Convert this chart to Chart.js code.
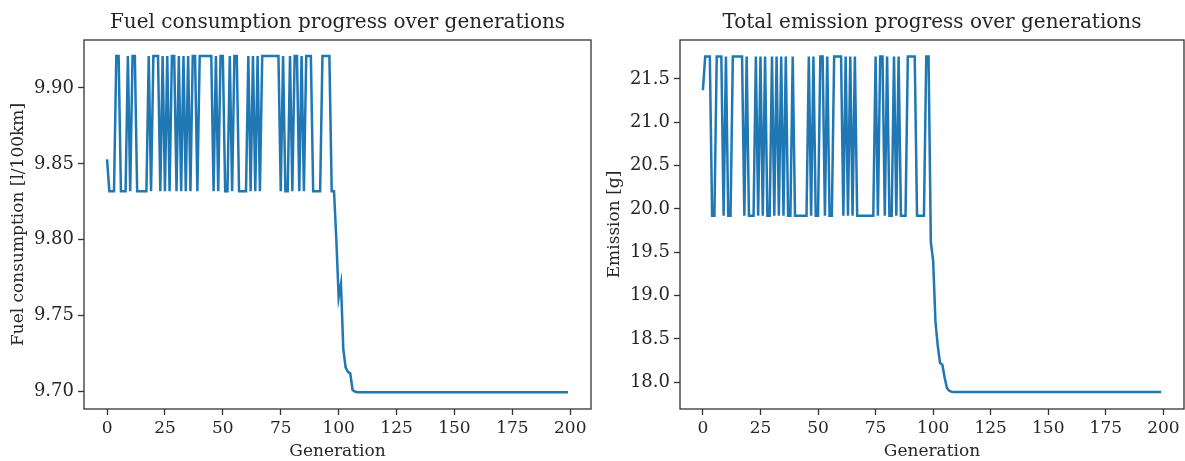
<!DOCTYPE html>
<html>
<head>
<meta charset="utf-8">
<script src="https://cdn.jsdelivr.net/npm/chart.js@4.4.1/dist/chart.umd.min.js"></script>
<style>
  html, body { margin: 0; padding: 0; background: #fff; }
  #wrap { position: relative; width: 1185px; height: 461px; }
  #fuelChart { position: absolute; left: 0; top: 0; }
  #emissionChart { position: absolute; left: 600px; top: 0; }
</style>
</head>
<body>
<div id="wrap">
  <canvas id="fuelChart" width="600" height="461"></canvas>
  <canvas id="emissionChart" width="585" height="461"></canvas>
</div>
<script>
var generations = [
  0, 1, 2, 3, 4, 5, 6, 7, 8, 9,
  10, 11, 12, 13, 14, 15, 16, 17, 18, 19,
  20, 21, 22, 23, 24, 25, 26, 27, 28, 29,
  30, 31, 32, 33, 34, 35, 36, 37, 38, 39,
  40, 41, 42, 43, 44, 45, 46, 47, 48, 49,
  50, 51, 52, 53, 54, 55, 56, 57, 58, 59,
  60, 61, 62, 63, 64, 65, 66, 67, 68, 69,
  70, 71, 72, 73, 74, 75, 76, 77, 78, 79,
  80, 81, 82, 83, 84, 85, 86, 87, 88, 89,
  90, 91, 92, 93, 94, 95, 96, 97, 98, 99,
  100, 101, 102, 103, 104, 105, 106, 107, 108, 109,
  110, 111, 112, 113, 114, 115, 116, 117, 118, 119,
  120, 121, 122, 123, 124, 125, 126, 127, 128, 129,
  130, 131, 132, 133, 134, 135, 136, 137, 138, 139,
  140, 141, 142, 143, 144, 145, 146, 147, 148, 149,
  150, 151, 152, 153, 154, 155, 156, 157, 158, 159,
  160, 161, 162, 163, 164, 165, 166, 167, 168, 169,
  170, 171, 172, 173, 174, 175, 176, 177, 178, 179,
  180, 181, 182, 183, 184, 185, 186, 187, 188, 189,
  190, 191, 192, 193, 194, 195, 196, 197, 198, 199
];

var fuel = [
  9.853, 9.832, 9.832, 9.832, 9.921, 9.921, 9.832, 9.832, 9.832, 9.921,
  9.832, 9.921, 9.921, 9.832, 9.832, 9.832, 9.832, 9.832, 9.921, 9.832,
  9.921, 9.921, 9.921, 9.832, 9.921, 9.832, 9.921, 9.832, 9.921, 9.921,
  9.832, 9.921, 9.832, 9.921, 9.832, 9.921, 9.832, 9.921, 9.921, 9.832,
  9.921, 9.921, 9.921, 9.921, 9.921, 9.921, 9.832, 9.921, 9.832, 9.921,
  9.921, 9.832, 9.832, 9.921, 9.832, 9.921, 9.921, 9.832, 9.832, 9.832,
  9.832, 9.921, 9.832, 9.921, 9.832, 9.921, 9.832, 9.921, 9.921, 9.921,
  9.921, 9.921, 9.921, 9.921, 9.921, 9.832, 9.921, 9.832, 9.832, 9.921,
  9.832, 9.921, 9.921, 9.832, 9.921, 9.832, 9.921, 9.921, 9.921, 9.832,
  9.832, 9.832, 9.832, 9.921, 9.921, 9.921, 9.921, 9.832, 9.832, 9.800,
  9.762, 9.771, 9.728, 9.716, 9.713, 9.712, 9.701, 9.700, 9.6995, 9.6995,
  9.6995, 9.6995, 9.6995, 9.6995, 9.6995, 9.6995, 9.6995, 9.6995, 9.6995, 9.6995,
  9.6995, 9.6995, 9.6995, 9.6995, 9.6995, 9.6995, 9.6995, 9.6995, 9.6995, 9.6995,
  9.6995, 9.6995, 9.6995, 9.6995, 9.6995, 9.6995, 9.6995, 9.6995, 9.6995, 9.6995,
  9.6995, 9.6995, 9.6995, 9.6995, 9.6995, 9.6995, 9.6995, 9.6995, 9.6995, 9.6995,
  9.6995, 9.6995, 9.6995, 9.6995, 9.6995, 9.6995, 9.6995, 9.6995, 9.6995, 9.6995,
  9.6995, 9.6995, 9.6995, 9.6995, 9.6995, 9.6995, 9.6995, 9.6995, 9.6995, 9.6995,
  9.6995, 9.6995, 9.6995, 9.6995, 9.6995, 9.6995, 9.6995, 9.6995, 9.6995, 9.6995,
  9.6995, 9.6995, 9.6995, 9.6995, 9.6995, 9.6995, 9.6995, 9.6995, 9.6995, 9.6995,
  9.6995, 9.6995, 9.6995, 9.6995, 9.6995, 9.6995, 9.6995, 9.6995, 9.6995, 9.6995
];

var emission = [
  21.37, 21.76, 21.76, 21.76, 19.92, 19.92, 21.76, 21.76, 21.76, 19.92,
  21.76, 19.92, 19.92, 21.76, 21.76, 21.76, 21.76, 21.76, 19.92, 21.76,
  19.92, 19.92, 19.92, 21.76, 19.92, 21.76, 19.92, 21.76, 19.92, 19.92,
  21.76, 19.92, 21.76, 19.92, 21.76, 19.92, 21.76, 19.92, 19.92, 21.76,
  19.92, 19.92, 19.92, 19.92, 19.92, 19.92, 21.76, 19.92, 21.76, 19.92,
  19.92, 21.76, 21.76, 19.92, 21.76, 19.92, 19.92, 21.76, 21.76, 21.76,
  21.76, 19.92, 21.76, 19.92, 21.76, 19.92, 21.76, 19.92, 19.92, 19.92,
  19.92, 19.92, 19.92, 19.92, 19.92, 21.76, 19.92, 21.76, 21.76, 19.92,
  21.76, 19.92, 19.92, 21.76, 19.92, 21.76, 19.92, 19.92, 19.92, 21.76,
  21.76, 21.76, 21.76, 19.92, 19.92, 19.92, 19.92, 21.76, 21.76, 19.62,
  19.40, 18.70, 18.42, 18.22, 18.20, 18.05, 17.93, 17.90, 17.89, 17.885,
  17.885, 17.885, 17.885, 17.885, 17.885, 17.885, 17.885, 17.885, 17.885, 17.885,
  17.885, 17.885, 17.885, 17.885, 17.885, 17.885, 17.885, 17.885, 17.885, 17.885,
  17.885, 17.885, 17.885, 17.885, 17.885, 17.885, 17.885, 17.885, 17.885, 17.885,
  17.885, 17.885, 17.885, 17.885, 17.885, 17.885, 17.885, 17.885, 17.885, 17.885,
  17.885, 17.885, 17.885, 17.885, 17.885, 17.885, 17.885, 17.885, 17.885, 17.885,
  17.885, 17.885, 17.885, 17.885, 17.885, 17.885, 17.885, 17.885, 17.885, 17.885,
  17.885, 17.885, 17.885, 17.885, 17.885, 17.885, 17.885, 17.885, 17.885, 17.885,
  17.885, 17.885, 17.885, 17.885, 17.885, 17.885, 17.885, 17.885, 17.885, 17.885,
  17.885, 17.885, 17.885, 17.885, 17.885, 17.885, 17.885, 17.885, 17.885, 17.885
];

var genTicks = [0, 25, 50, 75, 100, 125, 150, 175, 200];
var fuelTicks = [9.70, 9.75, 9.80, 9.85, 9.90];
var emissionTicks = [18.0, 18.5, 19.0, 19.5, 20.0, 20.5, 21.0, 21.5];

var FONT = "DejaVu Serif";
var INK = "#262626";

// matplotlib style box around the plot area
var frame = {
  id: "frame",
  afterDraw: function (chart) {
    var a = chart.chartArea;
    var ctx = chart.ctx;
    ctx.save();
    ctx.strokeStyle = "#333";
    ctx.lineWidth = 1.3;
    ctx.strokeRect(a.left, a.top, a.right - a.left, a.bottom - a.top);
    ctx.restore();
  }
};

function makeChart(id, values, cfg) {
  var points = generations.map(function (g, i) {
    return { x: g, y: values[i] };
  });

  return new Chart(document.getElementById(id), {
    type: "line",
    data: {
      datasets: [{
        data: points,
        borderColor: "#1f77b4",
        borderWidth: 2.5,
        pointRadius: 0,
        fill: false,
        tension: 0
      }]
    },
    options: {
      responsive: false,
      animation: false,
      devicePixelRatio: 1,
      layout: { padding: { left: 0, right: cfg.padRight, top: 0, bottom: 0 } },
      plugins: {
        legend: { display: false },
        tooltip: { enabled: false },
        title: {
          display: true,
          text: cfg.title,
          fullSize: false,
          color: INK,
          font: { family: FONT, size: 20, weight: "normal" },
          padding: { top: 11, bottom: 5 }
        }
      },
      scales: {
        x: {
          type: "linear",
          min: -9.95,
          max: 208.95,
          afterBuildTicks: function (scale) {
            scale.ticks = genTicks.map(function (v) { return { value: v }; });
          },
          afterFit: function (scale) { scale.height = 52; },
          border: { display: false },
          grid: { drawOnChartArea: false, drawTicks: true, tickLength: 6, tickWidth: 1.3, tickColor: "#333" },
          ticks: { padding: 3, color: INK, autoSkip: false, maxRotation: 0, font: { family: FONT, size: 17 } },
          title: { display: true, text: "Generation", color: INK, padding: 0, font: { family: FONT, size: 17, lineHeight: 1.1 } }
        },
        y: {
          min: cfg.min,
          max: cfg.max,
          afterBuildTicks: function (scale) {
            scale.ticks = cfg.ticks.map(function (v) { return { value: v }; });
          },
          afterFit: function (scale) { scale.width = cfg.axisWidth; },
          border: { display: false },
          grid: { drawOnChartArea: false, drawTicks: true, tickLength: 6, tickWidth: 1.3, tickColor: "#333" },
          ticks: {
            padding: 4,
            color: INK,
            autoSkip: false,
            font: { family: FONT, size: 18 },
            callback: function (v) { return v.toFixed(cfg.digits); }
          },
          title: { display: true, text: cfg.yLabel, color: INK, padding: { top: cfg.titlePad, bottom: 0 }, font: { family: FONT, size: 17 } }
        }
      }
    },
    plugins: [frame]
  });
}

makeChart("fuelChart", fuel, {
  title: "Fuel consumption progress over generations",
  yLabel: "Fuel consumption [l/100km]",
  min: 9.6885,
  max: 9.9316,
  ticks: fuelTicks,
  digits: 2,
  axisWidth: 84,
  padRight: 9,
  titlePad: 8
});

makeChart("emissionChart", emission, {
  title: "Total emission progress over generations",
  yLabel: "Emission [g]",
  min: 17.69,
  max: 21.95,
  ticks: emissionTicks,
  digits: 1,
  axisWidth: 80,
  padRight: 1,
  titlePad: 4
});
</script>
</body>
</html>
